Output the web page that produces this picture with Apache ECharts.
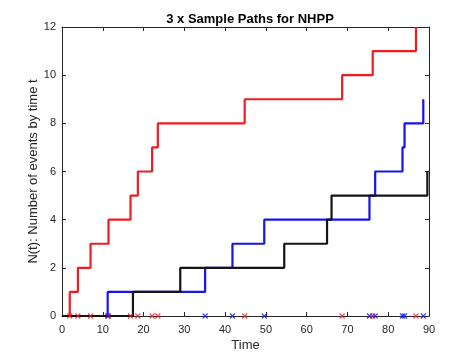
<!DOCTYPE html>
<html>
<head>
<meta charset="utf-8">
<script src="https://cdn.jsdelivr.net/npm/echarts@6/dist/echarts.min.js"></script>
<style>html,body{margin:0;padding:0;background:#fff;}#c{width:474px;height:355px;}</style>
</head>
<body>
<div id="c"></div>
<script>
// Event times (arrival times) of each sample path
const redTimes   = [1.9, 3.9, 7.0, 11.4, 16.8, 18.6, 22.1, 23.5, 44.8, 68.7, 76.2, 86.8];
const blueTimes  = [11.2, 35.1, 41.8, 49.6, 75.4, 76.8, 83.5, 84.0, 88.6];
const blackTimes = [17.4, 29.0, 54.5, 65.0, 66.1, 89.6];
const xTicks = [0, 10, 20, 30, 40, 50, 60, 70, 80, 90];
const yTicks = [0, 2, 4, 6, 8, 10, 12];

function pathData(times) {
  const d = [[0, 0]];
  times.forEach((t, i) => d.push([t, i + 1]));
  return d;
}
function markData(times) { return times.map(t => [t, 0]); }

const FONT = '"Liberation Sans", Arial, sans-serif';
const AX = '#262626';
const RED = '#f01c24';
const BLUE = '#1414f0';
const BLACK = '#141414';
const CROSS = 'path://M0,0L10,10M10,0L0,10';

const chart = echarts.init(document.getElementById('c'), null, {renderer: 'canvas'});

const axisCommonX = {
  type: 'value', min: xTicks[0], max: xTicks[xTicks.length - 1], interval: 10,
  splitLine: {show: false},
  axisLine: {show: true, onZero: false, lineStyle: {color: AX, width: 1}},
  axisTick: {show: true, inside: true, length: 4, lineStyle: {color: AX}}
};
const axisCommonY = {
  type: 'value', min: yTicks[0], max: yTicks[yTicks.length - 1], interval: 2,
  splitLine: {show: false},
  axisLine: {show: true, onZero: false, lineStyle: {color: AX, width: 1}},
  axisTick: {show: true, inside: true, length: 4, lineStyle: {color: AX}}
};

function stepSeries(name, times, color, z) {
  return {
    name, type: 'line', step: 'end', data: pathData(times),
    showSymbol: false, symbol: 'none', z,
    lineStyle: {color, width: 2.2}, clip: true, animation: false
  };
}
function markSeries(name, times, color, z) {
  return {
    name, type: 'scatter', data: markData(times), symbol: CROSS, symbolSize: 5, z,
    itemStyle: {color: 'none', borderColor: color, borderWidth: 1.2}, animation: false
  };
}

chart.setOption({
  animation: false,
  backgroundColor: '#ffffff',
  title: {
    text: '3 x Sample Paths for NHPP', left: 245, top: 8, textAlign: 'center',
    textStyle: {fontFamily: FONT, fontSize: 13, fontWeight: 'bold', color: '#000'}
  },
  grid: {left: 62, right: 45, top: 27, bottom: 39, containLabel: false, outerBoundsMode: 'none'},
  xAxis: [
    Object.assign({}, axisCommonX, {
      position: 'bottom', name: 'Time', nameLocation: 'middle', nameGap: 23,
      nameMoveOverlap: false,
      nameTextStyle: {fontFamily: FONT, fontSize: 13, color: AX},
      axisLabel: {show: true, margin: 8, fontFamily: FONT, fontSize: 11, color: AX,
                  formatter: v => xTicks.includes(v) ? String(v) : ''}
    }),
    Object.assign({}, axisCommonX, {position: 'top', axisLabel: {show: false}})
  ],
  yAxis: [
    Object.assign({}, axisCommonY, {
      position: 'left', name: 'N(t): Number of events by time t', nameLocation: 'middle', nameGap: 22,
      nameMoveOverlap: false,
      nameTextStyle: {fontFamily: FONT, fontSize: 13, color: AX},
      axisLabel: {show: true, margin: 6, fontFamily: FONT, fontSize: 11, color: AX,
                  formatter: v => yTicks.includes(v) ? String(v) : ''}
    }),
    Object.assign({}, axisCommonY, {position: 'right', axisLabel: {show: false}})
  ],
  series: [
    stepSeries('red', redTimes, RED, 2),
    stepSeries('blue', blueTimes, BLUE, 3),
    stepSeries('black', blackTimes, BLACK, 4),
    markSeries('redMarks', redTimes, RED, 5),
    markSeries('blueMarks', blueTimes, BLUE, 6)
  ]
});
</script>
</body>
</html>
